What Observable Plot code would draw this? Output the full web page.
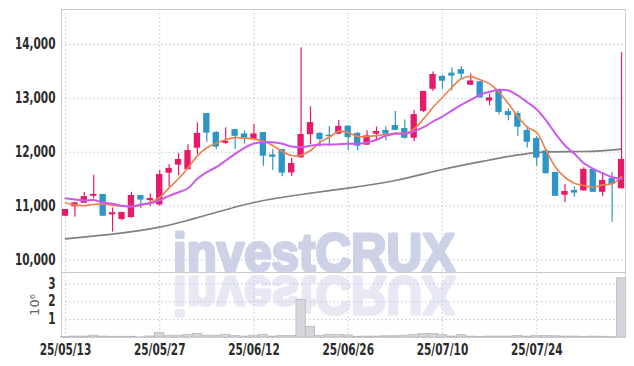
<!DOCTYPE html>
<html><head><meta charset="utf-8">
<script src="https://cdn.jsdelivr.net/npm/d3@7"></script>
<script src="https://cdn.jsdelivr.net/npm/@observablehq/plot@0.6"></script>
<style>
body{margin:0;background:#fff;}
#wrap{position:relative;width:634px;height:366px;overflow:hidden;background:#fff;}
#wm{position:absolute;left:0;top:0;z-index:0}
#charts{position:relative;z-index:1}
#charts svg{display:block}
</style></head><body>
<div id="wrap">
<svg id="wm" width="634" height="366">
<text x="173" y="271" font-family="Liberation Sans, Arial, sans-serif" font-weight="bold" font-size="53" fill="#cdd2e7" stroke="#cdd2e7" stroke-width="3" stroke-linejoin="round" textLength="282" lengthAdjust="spacingAndGlyphs">investCRUX</text>
<text x="173" y="271" transform="translate(0,548) scale(1,-1)" font-family="Liberation Sans, Arial, sans-serif" font-weight="bold" font-size="53" fill="#e7e8f3" stroke="#e7e8f3" stroke-width="3" stroke-linejoin="round" textLength="282" lengthAdjust="spacingAndGlyphs">investCRUX</text>
</svg>
<div id="charts"></div>
</div>
<script>
const dates = ["25/05/13","25/05/14","25/05/15","25/05/16","25/05/19","25/05/20","25/05/21","25/05/22","25/05/23","25/05/26",
"25/05/27","25/05/28","25/05/29","25/05/30","25/06/02","25/06/04","25/06/05","25/06/09","25/06/10","25/06/11",
"25/06/12","25/06/13","25/06/16","25/06/17","25/06/18","25/06/19","25/06/20","25/06/23","25/06/24","25/06/25",
"25/06/26","25/06/27","25/06/30","25/07/01","25/07/02","25/07/03","25/07/04","25/07/07","25/07/08","25/07/09",
"25/07/10","25/07/11","25/07/14","25/07/15","25/07/16","25/07/17","25/07/18","25/07/21","25/07/22","25/07/23",
"25/07/24","25/07/25","25/07/28","25/07/29","25/07/30","25/07/31","25/08/01","25/08/04","25/08/05","25/08/06"];
const open = [10810,10985,11050,11180,11215,10835,10750,10785,11195,11100,
11020,11610,11760,11675,12075,12720,12365,12165,12420,12340,
12235,12365,11950,12050,11615,11895,12325,12350,12315,12335,
12485,12350,12130,12335,12405,12495,12440,12260,12760,13170,
13410,13470,13535,13245,13310,12950,13160,12755,12720,12405,
12255,12025,11625,11200,11290,11280,11680,11255,11510,11320];
const high = [10935,11060,11250,11570,11215,10965,10880,11255,11195,11225,
11660,11765,11970,12140,12545,12720,12385,12455,12420,12400,
12520,12365,12050,12050,11885,13940,12845,12360,12480,12590,
12485,12370,12400,12470,12470,12755,12600,12770,13130,13495,
13430,13570,13595,13455,13310,13080,13160,12805,12755,12480,
12290,12050,11625,11405,11350,11710,11680,11590,11625,13850];
const low = [10800,10790,11050,11135,10810,10515,10725,10770,10950,10990,
10995,11350,11565,11675,11955,12185,12045,12145,12050,12155,
12235,11740,11660,11545,11550,11895,12145,12095,12105,12335,
12030,12025,12130,12200,12210,12405,12240,12195,12740,13130,
13170,13140,13350,13245,13000,12865,12695,12585,12290,12080,
11735,11600,11180,11060,11165,11280,11255,11170,10700,11320];
const close = [10935,11060,11175,11215,10810,10875,10880,11195,11110,11140,
11585,11700,11865,12030,12350,12355,12095,12200,12295,12260,
12340,11925,11905,11610,11790,12330,12550,12235,12290,12480,
12270,12110,12305,12385,12335,12405,12260,12700,13130,13445,
13320,13415,13450,13325,13010,13010,12740,12680,12465,12185,
11890,11600,11180,11270,11240,11680,11255,11475,11400,11865];
const ma5 = [11056,11022,11009,11028,11041,11018,10996,10991,11009,11070,
11158,11338,11506,11710,11933,12082,12167,12231,12273,12260,
12245,12204,12125,12013,11939,11944,12032,12186,12279,12390,
12366,12292,12292,12310,12329,12353,12353,12435,12621,12837,
13017,13208,13364,13407,13346,13272,13115,12900,12664,12465,
12366,12032,11721,11535,11424,11381,11349,11394,11413,11548];
const ma20 = [11145,11121,11102,11111,11065,11041,11004,10991,11028,11052,
11102,11189,11256,11331,11506,11628,11721,11846,11970,12082,
12162,12186,12186,12156,12106,12093,12119,12138,12143,12149,
12156,12156,12180,12231,12305,12342,12342,12390,12465,12571,
12664,12775,12881,12974,13067,13123,13160,13147,13054,12930,
12794,12589,12342,12125,11970,11796,11691,11610,11535,11506];
const ma120Days = ["25/05/13","25/05/20","25/05/27","25/06/04","25/06/12","25/06/19","25/06/26","25/07/03","25/07/10","25/07/17","25/07/24","25/07/31","25/08/06"];
const ma120 = [10390,10479,10606,10833,11065,11214,11334,11474,11678,11855,11994,12013,12059];
const volume = [0.03,0.05,0.05,0.10,0.05,0.04,0.04,0.04,0.01,0.06,
0.25,0.10,0.10,0.14,0.20,0.10,0.10,0.15,0.09,0.05,
0.10,0.15,0.05,0.08,0.08,2.10,0.60,0.08,0.15,0.15,
0.12,0.04,0.05,0.05,0.07,0.07,0.10,0.15,0.20,0.20,
0.15,0.05,0.13,0.05,0.04,0.05,0.05,0.05,0.08,0.05,
0.08,0.08,0.07,0.05,0.05,0.04,0.05,0.04,0.02,3.30];
const priceTicks = [10000,11000,12000,13000,14000];
const volTicks = [1,2,3];
const xTicks = ["25/05/13","25/05/27","25/06/12","25/06/26","25/07/10","25/07/24"];

const UP = "#e6196a", DOWN = "#2f95c6";
const rows = dates.map((d,i)=>({date:d, open:open[i], high:high[i], low:low[i], close:close[i], ma5:ma5[i], ma20:ma20[i], vol:volume[i]}));
const ma120Rows = ma120Days.map((d,i)=>({date:d, value:ma120[i]}));
const col = d => d.close >= d.open ? UP : DOWN;
const FONT = '"Liberation Sans Narrow","DejaVu Sans Condensed","Liberation Sans",sans-serif';
const GRID = {stroke:"#c2c7dc", strokeDasharray:"1.5,2.5", strokeWidth:1};
const xScale = {type:"band", domain:dates, paddingInner:0.33, paddingOuter:0.085, round:false};
const style = {background:"transparent", overflow:"visible", fontFamily:FONT, fontSize:"15px", fontWeight:"bold", color:"#2b2b2b"};

const price = Plot.plot({
  width:634, height:272, marginTop:9, marginBottom:0, marginLeft:61, marginRight:9,
  style,
  x:{...xScale, axis:null},
  y:{domain:[9764,14653], ticks:priceTicks, tickFormat:d3.format(","), tickSize:0, tickPadding:6, label:null},
  marks:[
    Plot.ruleY(priceTicks, GRID),
    Plot.ruleX(xTicks, GRID),
    Plot.line(ma120Rows, {x:"date", y:"value", stroke:"#808080", strokeWidth:1.7, curve:"natural"}),
    Plot.ruleX(rows, {x:"date", y1:"low", y2:"high", stroke:col, strokeWidth:1.2}),
    Plot.barY(rows, {x:"date", y1:"open", y2:"close", fill:col}),
    Plot.line(rows, {x:"date", y:"ma5", stroke:"#f0834c", strokeWidth:1.7, curve:"catmull-rom"}),
    Plot.line(rows, {x:"date", y:"ma20", stroke:"#cd58ee", strokeWidth:2, curve:"catmull-rom"}),
    Plot.frame({stroke:"#cbcbcf"})
  ]
});

const vol = Plot.plot({
  width:634, height:94, marginTop:0, marginBottom:29, marginLeft:61, marginRight:9,
  style,
  x:{...xScale, ticks:xTicks, tickSize:0, tickPadding:7, label:null},
  y:{domain:[0,3.63], ticks:volTicks, tickFormat:d3.format("d"), tickSize:0, tickPadding:6, label:null},
  marks:[
    Plot.ruleY(volTicks, GRID),
    Plot.ruleX(xTicks, GRID),
    Plot.barY(rows, {x:"date", y:"vol", fill:"#d5d5db", stroke:"#b8b8c0", strokeWidth:0.8, insetLeft:-1.5, insetRight:-1.5}),
    Plot.text(["10⁶"], {text:d=>d, frameAnchor:"left", dx:-27, rotate:-90, textAnchor:"middle", fontSize:13, fontWeight:"normal", fill:"#666", fontFamily:"DejaVu Sans, sans-serif"}),
    Plot.frame({stroke:"#cbcbcf"})
  ]
});

document.getElementById("charts").append(price, vol);

// condense tick labels to mimic the narrow face of the reference
for (const svg of [price, vol]) {
  svg.querySelectorAll('g[aria-label$="tick label"] text').forEach(t => {
    const len = t.getComputedTextLength();
    t.setAttribute("textLength", (len * 0.78).toFixed(1));
    t.setAttribute("lengthAdjust", "spacingAndGlyphs");
  });
}
</script>
</body></html>
